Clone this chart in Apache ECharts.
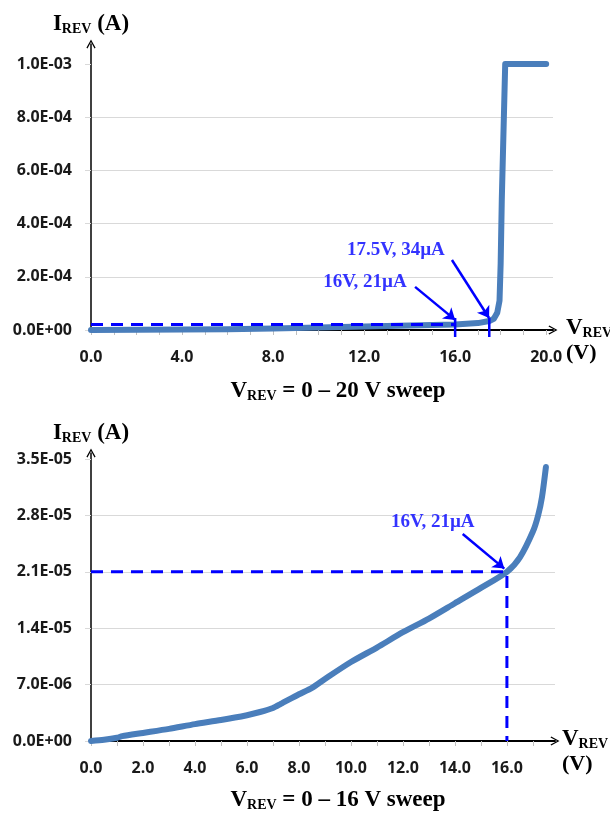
<!DOCTYPE html>
<html>
<head>
<meta charset="utf-8">
<script src="https://cdn.jsdelivr.net/npm/echarts@6/dist/echarts.min.js"></script>
<style>
html, body { margin: 0; padding: 0; background: #fff; }
#main { width: 610px; height: 820px; }
</style>
</head>
<body>
<div id="main"></div>
<script>
// V_REV = 0 - 20 V sweep (upper plot), volts / amps
var sweep20V = [0, 2, 4, 6, 8, 10, 12, 14, 16, 17, 17.5, 17.7, 17.85, 17.95, 18.0, 18.05, 18.2, 20];
var sweep20I = [0, 1.0e-6, 2.1e-6, 3.2e-6, 5.9e-6, 9.8e-6, 13.5e-6, 17.1e-6, 21e-6, 26e-6, 34e-6, 42e-6, 65e-6, 110e-6, 250e-6, 490e-6, 1.0e-3, 1.0e-3];

// V_REV = 0 - 16 V sweep (lower plot)
var sweep16V = [0, 0.5, 1.0, 1.2, 2, 3, 4, 5, 6, 6.5, 7, 7.3, 8, 8.5, 9, 10, 11, 12, 13, 14, 15, 16, 16.5, 17, 17.2, 17.35, 17.5];
var sweep16I = [0, 0.15e-6, 0.4e-6, 0.6e-6, 1.0e-6, 1.5e-6, 2.1e-6, 2.6e-6, 3.2e-6, 3.6e-6, 4.1e-6, 4.6e-6, 5.8e-6, 6.6e-6, 7.7e-6,
  9.8e-6, 11.6e-6, 13.5e-6, 15.2e-6, 17.1e-6, 19.0e-6, 21.0e-6, 22.8e-6, 26.0e-6, 28.0e-6, 30.3e-6, 34.0e-6];

// tick values
var topXLabels = [0, 4, 8, 12, 16, 20];
var topXTicks = [0, 1, 2, 3, 4, 5, 6, 7, 8, 9, 10, 11, 12, 13, 14, 15, 16, 17, 18, 19, 20];
var topYLabels = [0, 2e-4, 4e-4, 6e-4, 8e-4, 1e-3];
var botXLabels = [0, 2, 4, 6, 8, 10, 12, 14, 16];
var botXTicks = [0, 1, 2, 3, 4, 5, 6, 7, 8, 9, 10, 11, 12, 13, 14, 15, 16, 17];
var botYLabels = [0, 7e-6, 1.4e-5, 2.1e-5, 2.8e-5, 3.5e-5];

// annotations (data coordinates)
var topNotes = ['16V, 21\u00b5A', '17.5V, 34\u00b5A'];
var topNoteAt = [[12.04, 1.8e-4], [13.4, 3.0e-4]];
var topArrowFrom = [[14.24, 1.62e-4], [15.86, 2.63e-4]];
var topArrowTo = [[16, 3.8e-5], [17.49, 4.5e-5]];
var topMarkV = [16, 17.5];
var topMarkI = [4.5e-5, -2.6e-5];
var topDashI = 21e-6;
var botNotes = ['16V, 21\u00b5A'];
var botNoteAt = [[13.15, 2.72e-5]];
var botArrowFrom = [[14.3, 2.57e-5]];
var botArrowTo = [[15.9, 2.14e-5]];
var botDashV = 16;
var botDashI = 2.1e-5;

var myChart = echarts.init(document.getElementById('main'));

var serif = 'Liberation Serif';
var sans = 'Open Sans';
var blue = '#0000ff';
var curveColor = '#4a7ebb';
var arrowPath = 'path://M5,0 L10,9 L8.8,9.8 L5,2.6 L1.2,9.8 L0,9 Z';

function sci(v) {
	var s = v.toExponential(1).toUpperCase();
	return s.replace(/E([+-])(\d+)$/, function (m, sign, d) {
		return 'E' + sign + (d.length < 2 ? '0' + d : d);
	});
}

function zip(xs, ys) {
	return xs.map(function (x, i) { return [x, ys[i]]; });
}

var rich = {
	m: { fontFamily: serif, fontWeight: 'bold', fontSize: 23, color: '#000', lineHeight: 24, verticalAlign: 'middle' },
	s: { fontFamily: serif, fontWeight: 'bold', fontSize: 14, color: '#000', lineHeight: 14, verticalAlign: 'bottom', padding: [16, 0, 0, 0] },
	g: { fontSize: 10, lineHeight: 22 },
	u: { fontFamily: serif, fontWeight: 'bold', fontSize: 22, color: '#000', lineHeight: 26 }
};

function xAxisOf(idx, max, ticks, labels, gap) {
	return {
		gridIndex: idx,
		type: 'value',
		min: 0,
		max: max,
		name: '{g| }\n{m|V}{s|REV}\n{u|(V)}',
		nameLocation: 'end',
		nameGap: gap,
		nameMoveOverlap: false,
		nameTextStyle: { rich: rich, align: 'left', verticalAlign: 'middle' },
		axisLine: {
			onZero: false,
			symbol: ['none', arrowPath],
			symbolSize: [10, 9],
			lineStyle: { color: '#000', width: 2 }
		},
		axisTick: { show: true, customValues: ticks, length: 5, lineStyle: { color: '#bfbfbf', width: 1 } },
		axisLabel: {
			customValues: labels,
			formatter: function (v) { return v.toFixed(1); },
			margin: 19,
			fontFamily: sans, fontWeight: 'bold', fontSize: 16, color: '#1a1a1a'
		},
		splitLine: { show: false }
	};
}

function yAxisOf(idx, max, interval, labels) {
	return {
		gridIndex: idx,
		type: 'value',
		min: 0,
		max: max,
		interval: interval,
		name: '{m|I}{s|REV}{m| (A)}',
		nameLocation: 'end',
		nameGap: 8,
		nameMoveOverlap: false,
		nameTextStyle: { rich: rich },
		axisLine: {
			onZero: false,
			symbol: ['none', arrowPath],
			symbolSize: [10, 9],
			lineStyle: { color: '#000', width: 1.5 }
		},
		axisTick: { show: true, customValues: labels, length: 6, lineStyle: { color: '#d9d9d9', width: 1 } },
		axisLabel: {
			customValues: labels,
			formatter: sci,
			margin: 19,
			fontFamily: sans, fontWeight: 'bold', fontSize: 16, color: '#1a1a1a'
		},
		splitLine: { show: true, showMaxLine: false, lineStyle: { color: '#d9d9d9', width: 1 } }
	};
}

function noteSeries(idx, names, at) {
	return {
		type: 'scatter',
		xAxisIndex: idx,
		yAxisIndex: idx,
		silent: true,
		symbolSize: 1,
		itemStyle: { color: 'transparent' },
		label: {
			show: true, position: 'inside', formatter: '{b}',
			fontFamily: serif, fontWeight: 'bold', fontSize: 19, color: blue
		},
		data: names.map(function (n, i) { return { name: n, value: at[i] }; }),
		z: 5
	};
}

function arrowPairs(from, to) {
	return from.map(function (f, i) { return [{ coord: f }, { coord: to[i] }]; });
}

function dashSeries(idx, data, arrows) {
	var s = {
		type: 'line',
		xAxisIndex: idx,
		yAxisIndex: idx,
		silent: true,
		symbol: 'none',
		clip: false,
		lineStyle: { color: blue, width: 3, type: [12, 8] },
		data: data,
		z: 3
	};
	if (arrows) {
		s.markLine = {
			silent: true,
			symbol: ['none', 'arrow'],
			symbolSize: 11,
			label: { show: false },
			lineStyle: { color: blue, width: 2.5, type: 'solid' },
			data: arrows
		};
	}
	return s;
}

function markSeries(idx, v, ys) {
	return {
		type: 'line',
		xAxisIndex: idx,
		yAxisIndex: idx,
		silent: true,
		symbol: 'none',
		clip: false,
		lineStyle: { color: blue, width: 2.5 },
		data: [[v, ys[0]], [v, ys[1]]],
		z: 4
	};
}

function curveSeries(idx, xs, ys, smooth) {
	return {
		type: 'line',
		xAxisIndex: idx,
		yAxisIndex: idx,
		silent: true,
		symbol: 'none',
		smooth: smooth,
		lineStyle: { color: curveColor, width: 6, cap: 'round', join: 'round' },
		data: zip(xs, ys),
		z: 2
	};
}

var titleRich = {
	m: { fontFamily: serif, fontWeight: 'bold', fontSize: 23, fill: '#000', lineHeight: 24, verticalAlign: 'middle' },
	s: { fontFamily: serif, fontWeight: 'bold', fontSize: 14, fill: '#000', lineHeight: 14, verticalAlign: 'bottom', padding: [16, 0, 0, 0] }
};

var option = {
	animation: false,
	backgroundColor: '#fff',
	grid: [
		{ left: 91, right: 57, top: 44, height: 286, outerBoundsMode: 'none' },
		{ left: 91, right: 55, top: 453, height: 288, outerBoundsMode: 'none' }
	],
	xAxis: [
		xAxisOf(0, 20.3, topXTicks, topXLabels, 13),
		xAxisOf(1, 17.85, botXTicks, botXLabels, 7)
	],
	yAxis: [
		yAxisOf(0, 1.075e-3, 2e-4, topYLabels),
		yAxisOf(1, 3.575e-5, 7e-6, botYLabels)
	],
	graphic: [
		{
			type: 'text', x: 338, y: 379,
			style: { text: '{m|V}{s|REV}{m| = 0 \u2013 20 V sweep}', rich: titleRich, align: 'center', verticalAlign: 'top' }
		},
		{
			type: 'text', x: 338, y: 788,
			style: { text: '{m|V}{s|REV}{m| = 0 \u2013 16 V sweep}', rich: titleRich, align: 'center', verticalAlign: 'top' }
		}
	],
	series: [
		dashSeries(0, [[0, topDashI], [topMarkV[0], topDashI]], arrowPairs(topArrowFrom, topArrowTo)),
		markSeries(0, topMarkV[0], topMarkI),
		markSeries(0, topMarkV[1], topMarkI),
		curveSeries(0, sweep20V, sweep20I, false),
		noteSeries(0, topNotes, topNoteAt),

		dashSeries(1, [[0, botDashI], [botDashV, botDashI], [botDashV, 0]], arrowPairs(botArrowFrom, botArrowTo)),
		curveSeries(1, sweep16V, sweep16I, 0.25),
		noteSeries(1, botNotes, botNoteAt)
	]
};

myChart.setOption(option);
</script>
</body>
</html>
